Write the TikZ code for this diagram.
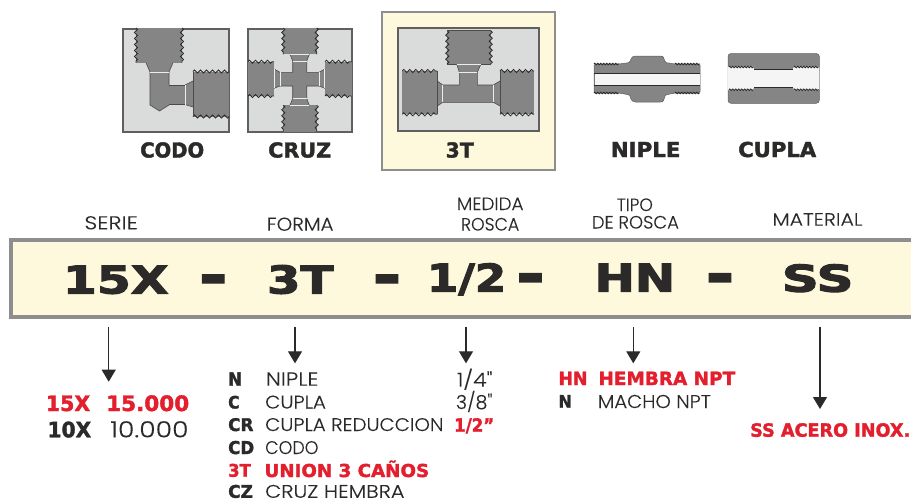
\documentclass[tikz,border=0pt]{standalone}
\usepackage{fontspec}
\usetikzlibrary{arrows.meta,decorations.pathmorphing}
\newfontfamily\blk[FakeBold=1.8]{DejaVu Sans Bold}
\newfontfamily\bigk[FakeBold=2.6]{DejaVu Sans Bold}
\newfontfamily\lit[FakeBold=0.15]{Poppins Light}
\definecolor{cream}{HTML}{FEF9DC}
\definecolor{ink}{HTML}{2B2A29}
\definecolor{redt}{HTML}{E31E2D}
\definecolor{panel}{HTML}{DADBDB}
\definecolor{steel}{HTML}{858585}
\definecolor{edge}{HTML}{5F5F5F}
\definecolor{bar}{HTML}{8E8E8E}
\newsavebox\lbx
\newdimen\capht
\newcommand\fitbox[4]{\sbox\lbx{#3#4\global\capht=\fontcharht\font`H\relax}%
  \pgfmathsetmacro\sx{#1/\the\wd\lbx}\pgfmathsetmacro\sy{#2/\the\capht}%
  \scalebox{\sx}[\sy]{\usebox\lbx}}
% name, x-left, baseline, width, cap height, font, colour, text
\newcommand\lab[8]{\node[anchor=base west,inner sep=0pt,text=#7] (#1) at (#2,#3) {\fitbox{#4}{#5}{#6}{#8}};}
\newcommand\dashlab[3]{\node[anchor=base,inner sep=0pt,text=ink] (#1) at (#2,#3) {\scalebox{7}[6]{\blk -}};}
\newcommand\thr[4]{\draw[thread] (#1,#2) -- (#3,#4);}
\newcommand\thrs[4]{\draw[threadS] (#1,#2) -- (#3,#4);}
\tikzset{
  x=1pt,y=-1pt,
  thread/.style={draw=ink,line width=.8pt,decorate,decoration={zigzag,segment length=6pt,amplitude=1.6pt}},
  threadS/.style={draw=ink,line width=.8pt,decorate,decoration={zigzag,segment length=3pt,amplitude=.8pt}},
  sq/.style={draw=edge,fill=panel,line width=2pt},
  body/.style={fill=steel,draw=none},
  dk/.style={draw=ink!85,line width=.6pt},
  seam/.style={draw=white!85!steel,line width=.7pt},
  arrowline/.style={draw=ink,line width=1.3pt,-{Triangle[length=12pt,width=14pt]}},
}
\begin{document}
\begin{tikzpicture}
\useasboundingbox (0,0) rectangle (911,501);
% ---- CODO
\draw[sq] (122.5,28.5) rectangle (229,131.5);
\fill[body] (136,28) rectangle (182,62.7);
\thr{136}{28}{136}{62.7} \thr{182}{28}{182}{62.7}
\fill[body] (146,62.7) -- (173,62.7) -- (169,72) -- (169,105) -- (159.5,111) -- (150,105) -- (150,72) -- cycle;
\draw[dk] (146,62.7) -- (150,72) -- (150,105) -- (159.5,111) -- (169,105);
\draw[dk] (173,62.7) -- (169,72) -- (169,85);
\draw[seam] (150,72) -- (169,72) (169,85) -- (169,105);
\fill[body] (169,85) rectangle (185,104.5);
\draw[dk] (169,85) -- (185,85) (169,104.5) -- (185,104.5);
\fill[body] (185,85) -- (193,81) -- (193,107) -- (185,104.5) -- cycle;
\draw[dk] (185,85) -- (193,81) (185,104.5) -- (193,107);
\draw[seam] (185,85) -- (185,104.5);
\fill[body] (193,71.5) rectangle (229,116.5);
\thr{193}{71.5}{229}{71.5} \thr{193}{116.5}{229}{116.5}
\draw[dk] (193,71.5) -- (193,116.5);
% ---- CRUZ
\draw[sq] (247.5,28.5) rectangle (352,131.5);
\fill[body] (283.3,28) rectangle (316.7,54.3);
\fill[body] (283.3,105.3) rectangle (316.7,131.5);
\thr{283.3}{28}{283.3}{54.3} \thr{316.7}{28}{316.7}{54.3}
\thr{283.3}{105.3}{283.3}{131.5} \thr{316.7}{105.3}{316.7}{131.5}
\fill[body] (248,61.7) rectangle (274,96);
\fill[body] (325,61.7) rectangle (351.7,96);
\thr{248}{61.7}{274}{61.7} \thr{248}{96}{274}{96}
\thr{325}{61.7}{351.7}{61.7} \thr{325}{96}{351.7}{96}
\fill[body] (290,54.3) -- (309.3,54.3) -- (306.7,61) -- (306.7,72.3) -- (319,72.3) -- (325,69) -- (325,88.3) -- (319,86) -- (306.7,86) -- (306.7,98.3) -- (309.3,105.3) -- (290,105.3) -- (292.7,98.3) -- (292.7,86) -- (280,86) -- (274,88.3) -- (274,69) -- (280,72.3) -- (292.7,72.3) -- (292.7,61) -- cycle;
\draw[dk] (290,54.3) -- (292.7,61) -- (292.7,72.3) -- (280,72.3) -- (274,69);
\draw[dk] (309.3,54.3) -- (306.7,61) -- (306.7,72.3) -- (319,72.3) -- (325,69);
\draw[dk] (290,105.3) -- (292.7,98.3) -- (292.7,86) -- (280,86) -- (274,88.3);
\draw[dk] (309.3,105.3) -- (306.7,98.3) -- (306.7,86) -- (319,86) -- (325,88.3);
\draw[seam] (292.7,61) -- (306.7,61) (292.7,98.3) -- (306.7,98.3) (280,72.3) -- (280,86) (319,72.3) -- (319,86)
  (290,54.6) -- (309.3,54.6) (290,105) -- (309.3,105) (274.3,69) -- (274.3,88.3) (324.7,69) -- (324.7,88.3);
% ---- 3T highlight
\draw[draw=bar,fill=cream,line width=2.5pt] (382,12) rectangle (555,170);
\draw[sq] (397.5,27.5) rectangle (538.5,130.5);
\fill[body] (447.3,30.7) rectangle (490.7,64);
\thr{447.3}{30.7}{447.3}{64} \thr{490.7}{30.7}{490.7}{64}
\draw[dk] (447.3,30.7) -- (490.7,30.7) (447.3,64) -- (456.7,64) (481,64) -- (490.7,64);
\fill[body] (456.7,64) -- (481,64) -- (477.3,72.3) -- (477.3,85) -- (493.3,85) -- (500,81) -- (500,106) -- (493.3,102.3) -- (442.7,102.3) -- (437.3,106) -- (437.3,81) -- (442.7,85) -- (459.3,85) -- (459.3,72.3) -- cycle;
\draw[dk] (456.7,64) -- (459.3,72.3) -- (459.3,85) -- (442.7,85) -- (437.3,81);
\draw[dk] (481,64) -- (477.3,72.3) -- (477.3,85) -- (493.3,85) -- (500,81);
\draw[dk] (437.3,106) -- (442.7,102.3) -- (493.3,102.3) -- (500,106);
\draw[seam] (459.3,72.3) -- (477.3,72.3) (456.7,64.3) -- (481,64.3) (442.7,85) -- (442.7,102.3) (493.3,85) -- (493.3,102.3);
\fill[body] (402.3,71) rectangle (437.3,114.3);
\fill[body] (500,71) rectangle (534,114.3);
\thr{402.3}{71}{437.3}{71} \thr{402.3}{114.3}{437.3}{114.3}
\thr{500}{71}{534}{71} \thr{500}{114.3}{534}{114.3}
\draw[dk] (437.3,71) -- (437.3,114.3) (500,71) -- (500,114.3);
% ---- NIPLE
\fill[steel,draw=edge,line width=.5pt,rounded corners=1.5pt] (594,64) -- (619,64) -- (630,62.5) -- (631,58) -- (634,56) -- (662,56) -- (664,58) -- (665,62.5) -- (675,64) -- (700,64) -- (700,93) -- (675,93) -- (665,95) -- (664,100) -- (662,102) -- (634,102) -- (631,100) -- (630,95) -- (619,93) -- (594,93) -- cycle;
\thrs{594}{64}{619}{64} \thrs{675}{64}{700}{64} \thrs{594}{93}{619}{93} \thrs{675}{93}{700}{93}
\fill[white!92!steel] (594.5,73.7) rectangle (699.5,85);
\draw[ink,line width=.8pt] (594,73.7) -- (700,73.7) (594,85) -- (700,85);
% ---- CUPLA
\fill[steel,draw=edge,line width=.5pt,rounded corners=3pt] (728,53.5) rectangle (819.3,103.3);
\fill[white!92!steel] (728,66.7) -- (753,66.7) -- (754,69) -- (793,69) -- (794,66.7) -- (819.3,66.7) -- (819.3,90) -- (794,90) -- (793,87.3) -- (754,87.3) -- (753,90) -- (728,90) -- cycle;
\thrs{729}{67}{753}{67} \thrs{794}{67}{819}{67} \thrs{729}{89.7}{753}{89.7} \thrs{794}{89.7}{819}{89.7}
\draw[ink,line width=.7pt] (754,69) -- (793,69) (754,87.3) -- (793,87.3);
% ---- icon captions
\lab{lCodo}{140}{157.5}{64}{15}{\blk}{ink}{CODO}
\lab{lCruz}{268}{157.5}{63}{15}{\blk}{ink}{CRUZ}
\lab{lT}{445.5}{157.5}{28}{15}{\blk}{ink}{3T}
\lab{lNiple}{610.7}{157}{69.5}{15}{\blk}{ink}{NIPLE}
\lab{lCupla}{738}{157}{78}{15}{\blk}{ink}{CUPLA}
% ---- headers
\lab{hSerie}{84.3}{229.3}{53.4}{13}{\lit}{ink}{SERIE}
\lab{hForma}{266.7}{230.7}{66.6}{13}{\lit}{ink}{FORMA}
\lab{hMedida}{456.7}{210}{66.6}{12.5}{\lit}{ink}{MEDIDA}
\lab{hRosca}{460.7}{230.5}{58.3}{12.5}{\lit}{ink}{ROSCA}
\lab{hTipo}{616.7}{211}{36}{12.5}{\lit}{ink}{TIPO}
\lab{hDeRosca}{591.7}{228.5}{87}{12.5}{\lit}{ink}{DE ROSCA}
\lab{hMaterial}{772.3}{225.7}{90}{12.5}{\lit}{ink}{MATERIAL}
% ---- code bar
\fill[cream] (11,239.5) rectangle (911,317);
\draw[bar,line width=4pt] (911,239.5) -- (11,239.5) -- (11,317) -- (911,317);
\lab{cSerie}{62.7}{293.5}{105.6}{28}{\bigk}{ink}{15X}
\dashlab{dA}{213.3}{296.2}
\lab{cForma}{266.7}{293.5}{66.6}{28}{\bigk}{ink}{3T}
\dashlab{dB}{387}{296.2}
\lab{cMedida}{426.7}{291.7}{79.3}{28}{\bigk}{ink}{1/2}
\dashlab{dC}{530.5}{295}
\lab{cTipo}{594.3}{291.7}{80.7}{28}{\bigk}{ink}{HN}
\dashlab{dD}{720}{295}
\lab{cMat}{781.7}{291.7}{71.6}{27}{\bigk}{ink}{SS}
% ---- arrows
\coordinate (a1s) at (108.7,326.7); \coordinate (a1e) at (108.7,381.7);
\coordinate (a2s) at (295,326.7);   \coordinate (a2e) at (295,363.3);
\coordinate (a3s) at (466,326.7);   \coordinate (a3e) at (466,363.3);
\coordinate (a4s) at (633.3,326.7); \coordinate (a4e) at (633.3,363.3);
\coordinate (a5s) at (820,326.7);   \coordinate (a5e) at (820,409);
\draw[arrowline] (a1s) -- (a1e);
\draw[arrowline] (a2s) -- (a2e);
\draw[arrowline] (a3s) -- (a3e);
\draw[arrowline] (a4s) -- (a4e);
\draw[arrowline] (a5s) -- (a5e);
% ---- serie column
\lab{s1}{45.7}{411}{44.3}{15.5}{\blk}{redt}{15X}
\lab{s2}{106}{411}{83}{15.5}{\blk}{redt}{15.000}
\lab{s3}{47.3}{437.3}{43.7}{15.5}{\blk}{ink}{10X}
\lab{s4}{110}{437.3}{78.3}{15.5}{\lit}{ink}{10.000}
% ---- forma column
\lab{f1}{228}{385.7}{13.7}{13.3}{\blk}{ink}{N}
\lab{f1b}{265.7}{385.7}{52.6}{13.3}{\lit}{ink}{NIPLE}
\lab{f2}{228}{408.5}{11.3}{12.5}{\blk}{ink}{C}
\lab{f2b}{265}{408.5}{60.7}{12.8}{\lit}{ink}{CUPLA}
\lab{f3}{228}{431}{25.3}{12.7}{\blk}{ink}{CR}
\lab{f3b}{265}{431}{178.3}{12.8}{\lit}{ink}{CUPLA REDUCCION}
\lab{f4}{228}{454}{26}{12.9}{\blk}{ink}{CD}
\lab{f4b}{265}{454}{53.3}{12.8}{\lit}{ink}{CODO}
\lab{f5}{228}{476.7}{22.7}{12.7}{\blk}{redt}{3T}
\lab{f5b}{264.3}{477}{164.7}{13}{\blk}{redt}{UNION 3 CAÑOS}
\lab{f6}{228}{497.8}{24.7}{12.7}{\blk}{ink}{CZ}
\lab{f6b}{265}{497.8}{139.3}{12.8}{\lit}{ink}{CRUZ HEMBRA}
% ---- medida column
\lab{m1}{456.7}{386.7}{35.6}{13.5}{\lit}{ink}{1/4"}
\lab{m2}{455.7}{409}{36.6}{13.5}{\lit}{ink}{3/8"}
\lab{m3}{454}{431.7}{40}{13.3}{\blk}{redt}{1/2”}
% ---- tipo column
\lab{t1}{558.3}{385}{29}{13.3}{\blk}{redt}{HN}
\lab{t1b}{598.3}{385}{136.7}{13.3}{\blk}{redt}{HEMBRA NPT}
\lab{t2}{558.3}{407.5}{13.4}{12.5}{\blk}{ink}{N}
\lab{t2b}{597.7}{408}{113}{13}{\lit}{ink}{MACHO NPT}
% ---- material
\lab{x1}{750}{436.7}{160}{13.3}{\blk}{redt}{SS ACERO INOX.}
\end{tikzpicture}
\end{document}
